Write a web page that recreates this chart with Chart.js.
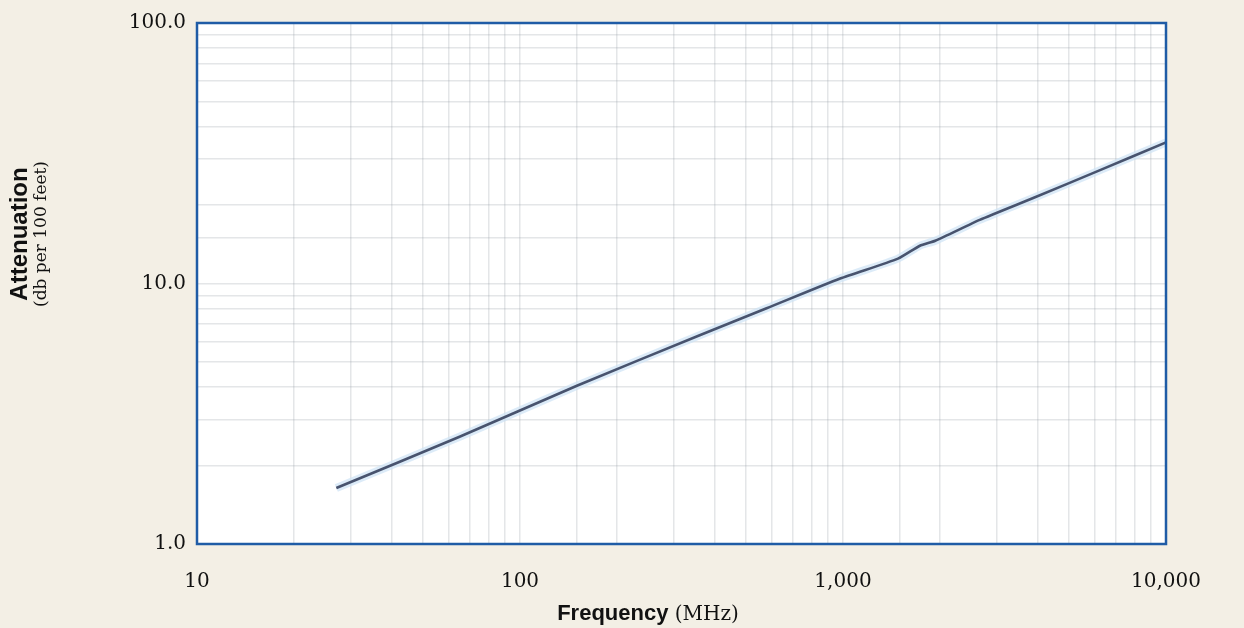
<!DOCTYPE html>
<html>
<head>
<meta charset="utf-8">
<script src="https://cdn.jsdelivr.net/npm/chart.js@4.4.1/dist/chart.umd.min.js"></script>
<style>
  html, body { margin: 0; padding: 0; background: #f3efe5; }
  #wrap { width: 1244px; height: 628px; }
</style>
</head>
<body>
<div id="wrap"><canvas id="attChart" width="1244" height="628"></canvas></div>
<script>
// frequency in MHz, attenuation in dB per 100 feet
const freqMHz = [27, 65, 150, 360, 580, 980, 1480, 1730, 1930, 2650, 3880, 6250, 10000];
const attenDb = [1.64, 2.58, 4.05, 6.33, 8.03, 10.45, 12.46, 13.96, 14.59, 17.55, 21.29, 27.23, 34.8];

const xTickLabels = { 10: '10', 100: '100', 1000: '1,000', 10000: '10,000' };
const yTickLabels = { 1: '1.0', 10: '10.0', 100: '100.0' };

const frameColor = '#1f5ca6';
const curveColor = '#48536e';
const gridColor = 'rgba(150, 160, 166, 0.26)';

const points = freqMHz.map((f, i) => ({ x: f, y: attenDb[i] }));

const isDecade = (v) => Math.abs(Math.log10(v) - Math.round(Math.log10(v))) < 1e-9;

const framePlugin = {
  id: 'frame',
  beforeDraw(chart) {
    const { ctx, chartArea: a } = chart;
    ctx.save();
    ctx.fillStyle = '#ffffff';
    ctx.fillRect(a.left, a.top, a.right - a.left, a.bottom - a.top);
    ctx.restore();
  },
  afterDraw(chart) {
    const { ctx, chartArea: a } = chart;
    ctx.save();
    ctx.strokeStyle = frameColor;
    ctx.lineWidth = 2.5;
    ctx.strokeRect(a.left, a.top, a.right - a.left, a.bottom - a.top);

    // x title: bold sans word + serif unit
    ctx.fillStyle = '#111';
    ctx.textBaseline = 'alphabetic';
    const boldFont = 'bold 22px "Liberation Sans", Arial, sans-serif';
    const serifFont = '20px "DejaVu Serif", serif';
    ctx.font = boldFont;
    const w1 = ctx.measureText('Frequency').width;
    ctx.font = serifFont;
    const w2 = ctx.measureText(' (MHz)').width;
    const x0 = 648 - (w1 + w2) / 2;
    ctx.textAlign = 'left';
    ctx.font = boldFont;
    ctx.fillText('Frequency', x0, 620);
    ctx.font = serifFont;
    ctx.fillText(' (MHz)', x0 + w1, 620);

    // y title, two rotated lines
    ctx.translate(0, 234);
    ctx.rotate(-Math.PI / 2);
    ctx.textAlign = 'center';
    ctx.font = 'bold 24px "Liberation Sans", Arial, sans-serif';
    ctx.fillText('Attenuation', 0, 27);
    ctx.font = '17px "DejaVu Serif", serif';
    ctx.fillText('(db per 100 feet)', 0, 46);
    ctx.restore();
  }
};

const config = {
  type: 'line',
  data: {
    datasets: [
      {
        data: points,
        borderColor: curveColor,
        borderWidth: 2.6,
        pointRadius: 0,
        tension: 0.2
      },
      {
        data: points,
        borderColor: 'rgba(205, 226, 245, 0.7)',
        borderWidth: 8,
        pointRadius: 0,
        tension: 0.2
      }
    ]
  },
  options: {
    responsive: false,
    animation: false,
    layout: { padding: { top: 20, right: 78, left: 0, bottom: 0 } },
    plugins: { legend: { display: false }, tooltip: { enabled: false } },
    scales: {
      x: {
        type: 'logarithmic',
        min: 10,
        max: 10000,
        afterFit: (s) => { s.height = 628 - 544; },
        border: { display: false },
        grid: { color: gridColor, lineWidth: 1.5, drawTicks: false },
        ticks: {
          autoSkip: false,
          maxRotation: 0,
          padding: 26,
          color: '#111',
          font: { family: '"DejaVu Serif", serif', size: 20 },
          callback: (v) => (isDecade(v) ? xTickLabels[Math.round(v)] : '')
        }
      },
      y: {
        type: 'logarithmic',
        min: 1,
        max: 100,
        afterFit: (s) => { s.width = 197; },
        border: { display: false },
        grid: { color: gridColor, lineWidth: 1.5, drawTicks: false },
        ticks: {
          autoSkip: false,
          padding: 11,
          color: '#111',
          font: { family: '"DejaVu Serif", serif', size: 20 },
          callback: (v) => (isDecade(v) ? yTickLabels[Math.round(v)] : '')
        }
      }
    }
  },
  plugins: [framePlugin]
};

document.addEventListener('DOMContentLoaded', () => {
  const attChart = new Chart(document.getElementById('attChart'), config);
});
</script>
</body>
</html>
